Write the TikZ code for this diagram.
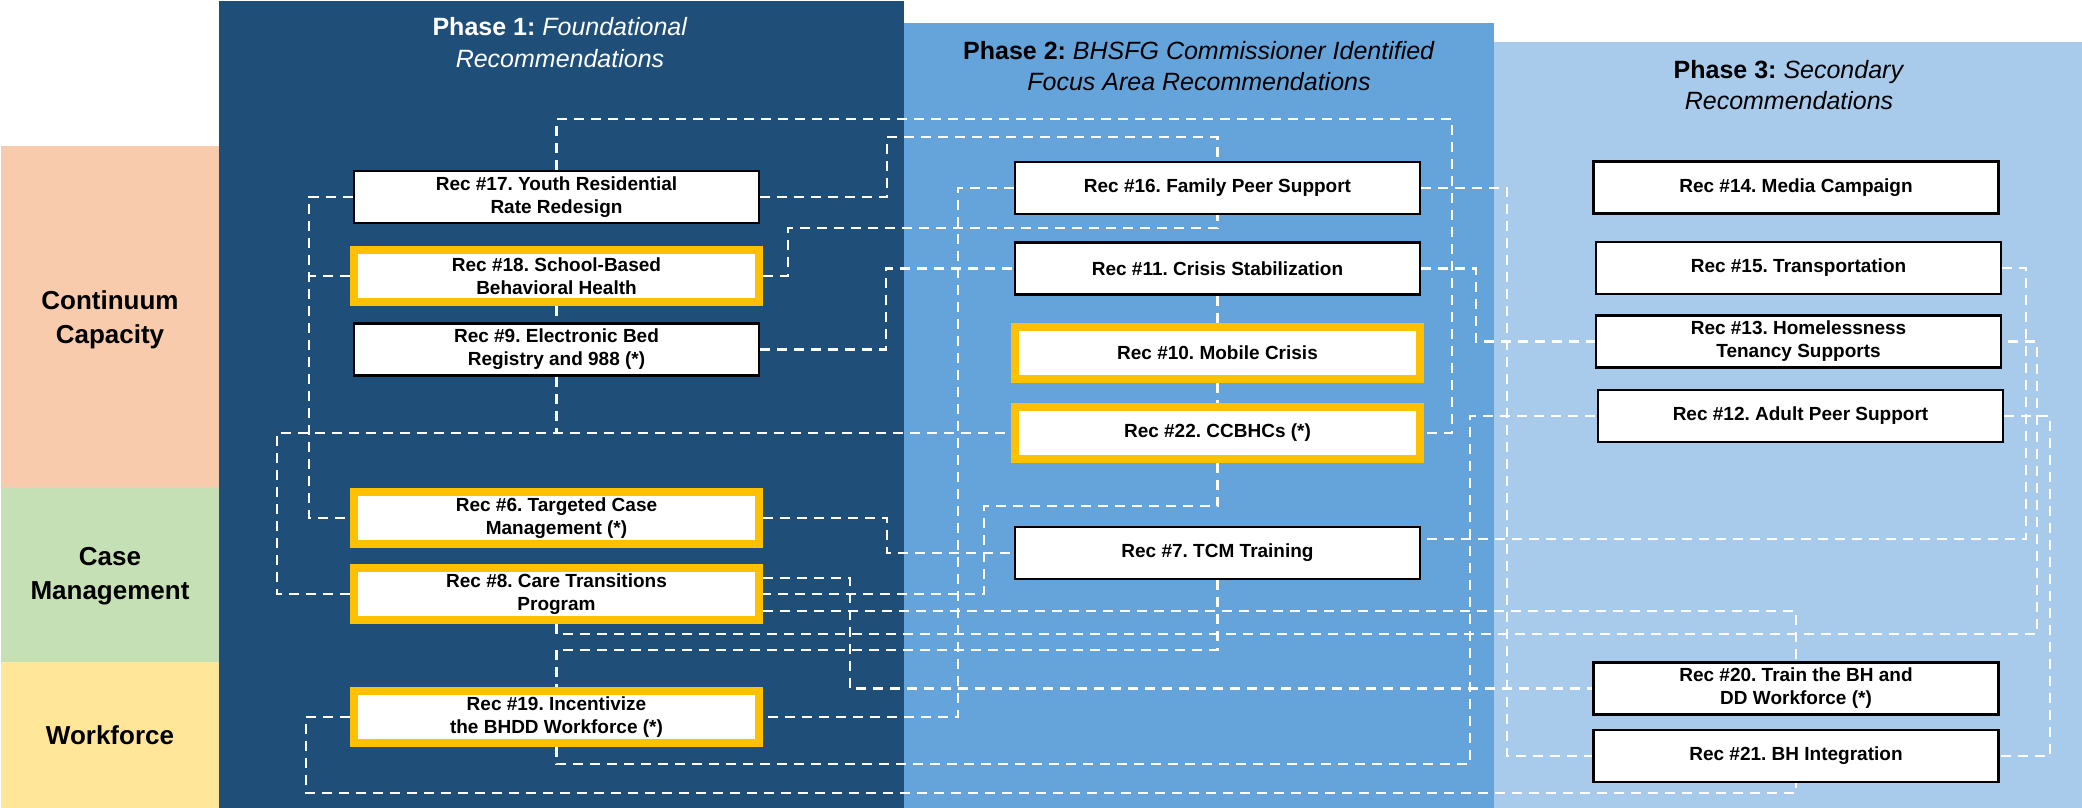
\documentclass[tikz,border=0pt]{standalone}
\usepackage{fontspec}
\setmainfont{Liberation Sans}
\usetikzlibrary{calc}
\frenchspacing
\definecolor{pdark}{HTML}{1F4E79}
\definecolor{pmed}{HTML}{65A3DB}
\definecolor{plight}{HTML}{A8CAEB}
\definecolor{rpeach}{HTML}{F8CBAD}
\definecolor{rgreen}{HTML}{C5E0B4}
\definecolor{ryellow}{HTML}{FFE699}
\definecolor{gold}{HTML}{FFC000}
\begin{document}
\begin{tikzpicture}[x=1pt,y=-1pt,
  recbox/.style={draw=black,line width=2.5pt,fill=white,minimum width=405pt,minimum height=52pt,align=center,inner sep=0pt,font=\fontsize{19}{23}\selectfont\bfseries},
  goldbox/.style={recbox,draw=gold,line width=7.5pt},
  conn/.style={draw=white,line width=2.8pt,dash pattern=on 10pt off 7pt},
  rowlab/.style={align=center,inner sep=0pt,font=\fontsize{26}{34}\selectfont\bfseries},
  phasetitle/.style={align=center,inner sep=0pt,font=\fontsize{25}{31.5}\selectfont}]
\useasboundingbox (0,0) rectangle (2082,808);
% backgrounds
\fill[pdark] (219,1) rectangle (904,808);
\fill[pmed] (904,23) rectangle (1494,808);
\fill[plight] (1494,42) rectangle (2082,808);
\fill[rpeach] (1,146) rectangle (219,487);
\fill[rgreen] (1,487) rectangle (219,662);
\fill[ryellow] (1,662) rectangle (219,808);
% row labels
\node[rowlab] (lcc) at (110,320) {Continuum\\Capacity};
\node[rowlab] (lcm) at (110,576.5) {Case\\Management};
\node[rowlab] (lwf) at (110,735) {Workforce};
% phase titles
\node[phasetitle,text=white] (t1) at (560,42.5) {\textbf{Phase 1:} \textit{Foundational}\\\textit{Recommendations}};
\node[phasetitle] (t2) at (1199,66) {\textbf{Phase 2:} \textit{BHSFG Commissioner Identified}\\\textit{Focus Area Recommendations}};
\node[phasetitle] (t3) at (1789,85) {\textbf{Phase 3:} \textit{Secondary}\\\textit{Recommendations}};
% phase 1 boxes
\node[recbox] (r17) at (556.5,197) {Rec \#17. Youth Residential\\Rate Redesign};
\node[goldbox] (r18) at (556.5,276) {Rec \#18. School-Based\\Behavioral Health};
\node[recbox] (r9) at (556.5,349.5) {Rec \#9. Electronic Bed\\Registry and 988 (*)};
\node[goldbox] (r6) at (556.5,518) {Rec \#6. Targeted Case\\Management (*)};
\node[goldbox] (r8) at (556.5,594) {Rec \#8. Care Transitions\\Program};
\node[goldbox] (r19) at (556.5,717) {Rec \#19. Incentivize\\the BHDD Workforce (*)};
% phase 2 boxes
\node[recbox] (r16) at (1217.5,188) {Rec \#16. Family Peer Support};
\node[recbox] (r11) at (1217.5,268.5) {Rec \#11. Crisis Stabilization};
\node[goldbox] (r10) at (1217.5,353) {Rec \#10. Mobile Crisis};
\node[goldbox] (r22) at (1217.5,433) {Rec \#22. CCBHCs (*)};
\node[recbox] (r7) at (1217.5,553) {Rec \#7. TCM Training};
% phase 3 boxes
\node[recbox] (r14) at (1796,187.5) {Rec \#14. Media Campaign};
\node[recbox] (r15) at (1798.5,268) {Rec \#15. Transportation};
\node[recbox] (r13) at (1798.5,341.5) {Rec \#13. Homelessness\\Tenancy Supports};
\node[recbox] (r12) at (1800.5,416) {Rec \#12. Adult Peer Support};
\node[recbox] (r20) at (1796,688.5) {Rec \#20. Train the BH and\\DD Workforce (*)};
\node[recbox] (r21) at (1796,756) {Rec \#21. BH Integration};
% connectors
\draw[conn] (r17.north) |- (1452,119) |- (r22.east);
\draw[conn] (r17.east) -| (887,137) -| (r16.north);
\draw[conn] (r17.west) -- (309,197) |- (r6.west);
\draw[conn] (r18.west) -- (309,276);
\draw[conn] (r18.east) -| (788,228) -| (r16.south);
\draw[conn] (r18.south) -- (r9.north);
\draw[conn] (r9.east) -| (886,268.5) -- (r11.west);
\draw[conn] (r9.south) -- (556.5,433);
\draw[conn] (r8.west) -| (277,433) -- (r22.west);
\draw[conn] (r16.west) -| (958,717) -- (r19.east);
\draw[conn] (r16.east) -| (1507,756) -- (r21.west);
\draw[conn] (r11.east) -| (1476,341.5) -- (r13.west);
\draw[conn] (r11.south) -- (r10.north);
\draw[conn] (r10.south) -- (r22.north);
\draw[conn] (r22.south) |- (984,506) |- (r8.east);
\draw[conn] (r6.east) -| (887,553) -- (r7.west);
\draw[conn] (r7.south) |- (556.5,650) -- (r19.north);
\draw[conn] ($(r8.east)+(0,-16)$) -| (850,688.5) -- (r20.west);
\draw[conn] ($(r8.east)+(0,17)$) -| (r20.north);
\draw[conn] (r8.south) |- (2037,634) |- (r13.east);
\draw[conn] (r19.south) |- (1470,764) |- (r12.west);
\draw[conn] (r19.west) -| (306,793) -| (r21.south);
\draw[conn] (r15.east) -| (2026,539) -- ($(r7.east)+(0,-14)$);
\draw[conn] (r12.east) -| (2050,756) -- (r21.east);
\end{tikzpicture}
\end{document}
